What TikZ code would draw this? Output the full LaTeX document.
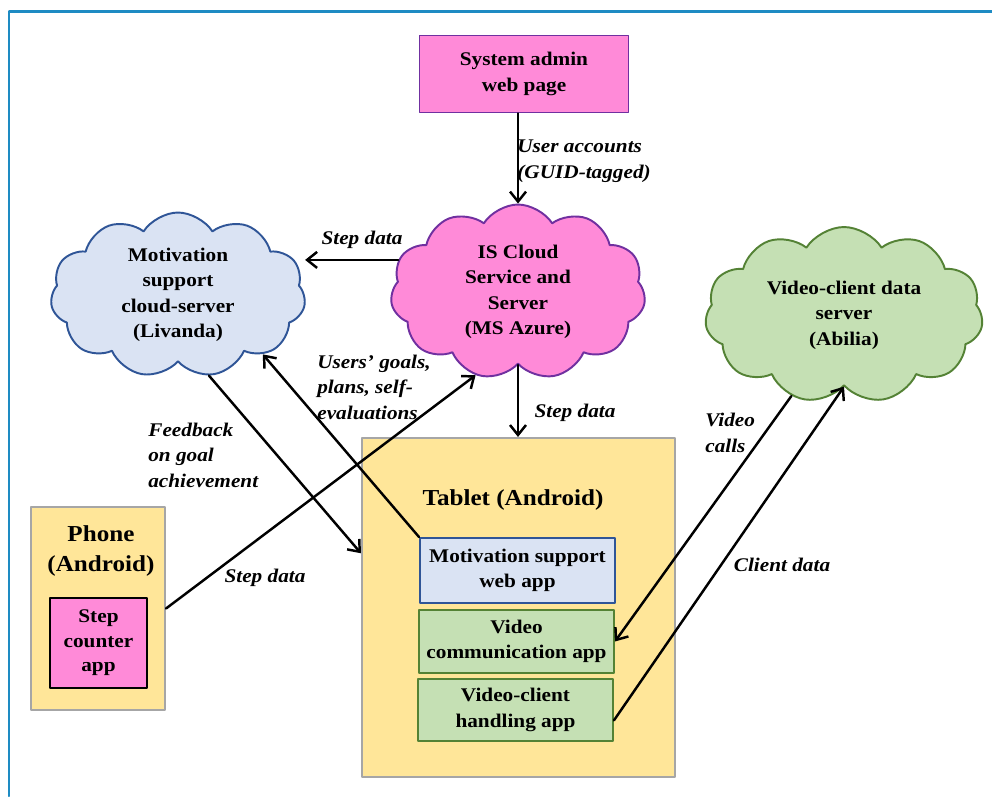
\documentclass[tikz,border=0pt]{standalone}
\usepackage{fontspec}
\setmainfont{Liberation Serif}[FakeStretch=1.1]
\usepackage{tikz}
\usetikzlibrary{arrows.meta,shapes.symbols}
\definecolor{framecol}{HTML}{1E8BC3}
\definecolor{pinkfill}{HTML}{FF8AD8}
\definecolor{purpleline}{HTML}{7030A0}
\definecolor{bluefill}{HTML}{DAE3F3}
\definecolor{blueline}{HTML}{2F5597}
\definecolor{greenfill}{HTML}{C5E0B4}
\definecolor{greenline}{HTML}{548235}
\definecolor{yellowfill}{HTML}{FFE699}
\definecolor{grayline}{HTML}{A6A6A6}

\begin{document}
\begin{tikzpicture}[x=0.02cm,y=-0.02cm,line cap=round,line join=round,
  >={Straight Barb[length=2mm,width=3.2mm]},
  box/.style={draw,line width=1.1pt,align=center,inner sep=0pt,
    font=\bfseries\fontsize{11}{14.5}\selectfont},
  cloudbox/.style={cloud,cloud puffs=11,cloud puff arc=115,aspect=1.5,draw,
    line width=1.1pt,align=center,inner sep=0pt,
    font=\bfseries\fontsize{11}{14.5}\selectfont},
  device/.style={draw=grayline,fill=yellowfill,line width=1.2pt,inner sep=0pt},
  title/.style={align=center,inner sep=0pt,font=\bfseries\fontsize{13}{17}\selectfont},
  lbl/.style={align=left,inner sep=0pt,font=\bfseries\itshape\fontsize{11}{14.5}\selectfont},
  flow/.style={->,line width=1.4pt}]
\useasboundingbox[fill=white] (0,0) rectangle (992,796);
\draw[framecol,line width=1.7pt] (9,796) -- (9,11) -- (992,11);

% servers
\node[box,fill=pinkfill,draw=purpleline,minimum width=4.18cm,minimum height=1.54cm] (admin) at (524,74) {System admin\\web page};
\node[cloudbox,fill=pinkfill,draw=purpleline,minimum width=5.1cm,minimum height=3.5cm] (iscloud) at (518,292) {IS Cloud\\Service and\\Server\\(MS Azure)};
\node[cloudbox,fill=bluefill,draw=blueline,minimum width=5.1cm,minimum height=3.3cm] (motcloud) at (178,295) {Motivation\\support\\cloud-server\\(Livanda)};
\node[cloudbox,fill=greenfill,draw=greenline,minimum width=5.56cm,minimum height=3.52cm] (vidcloud) at (844,315) {Video-client data\\server\\(Abilia)};

% devices
\node[device,minimum width=6.26cm,minimum height=6.78cm] (tablet) at (518.5,607.5) {};
\node[title] (tablettitle) at (513,500) {Tablet (Android)};
\node[box,fill=bluefill,draw=blueline,minimum width=3.9cm,minimum height=1.3cm] (webapp) at (517.5,570.5) {Motivation support\\web app};
\node[box,fill=greenfill,draw=greenline,minimum width=3.9cm,minimum height=1.26cm] (vidcomm) at (516.5,641.5) {Video\\communication app};
\node[box,fill=greenfill,draw=greenline,minimum width=3.9cm,minimum height=1.24cm] (vidhandle) at (515.5,710) {Video-client\\handling app};
\node[device,minimum width=2.68cm,minimum height=4.06cm] (phone) at (98,608.5) {};
\node[title] (phonetitle) at (101,551) {Phone\\(Android)};
\node[box,fill=pinkfill,draw=black,minimum width=1.94cm,minimum height=1.8cm,
  font=\bfseries\fontsize{11}{14}\selectfont] (stepapp) at (98.5,643) {Step\\counter\\app};

% data flows
\draw[flow] (admin.south -| iscloud.north) -- (iscloud.north);
\draw[flow] (iscloud.165) -- (iscloud.165 -| motcloud.east);
\draw[flow] (iscloud.south) -- (iscloud.south |- tablet.north);
\draw[flow] (webapp.north west) -- (motcloud.-35);
\draw[flow] (motcloud.-69) -- (tablet.161);
\draw[flow] (phone.east) -- (iscloud.-117);
\draw[flow] (vidcloud.-123) -- (vidcomm.east);
\draw[flow] (vidhandle.-6) -- (vidcloud.south);

% labels
\node[lbl,anchor=west] (lblaccounts) at (517,161) {User accounts\\(GUID-tagged)};
\node[lbl] (lblstepmot) at (362,240) {Step data};
\node[lbl] (lblstepis) at (575,413) {Step data};
\node[lbl,anchor=west] (lblgoals) at (317,387) {Users’ goals,\\plans, self-\\evaluations};
\node[lbl,anchor=west] (lblfeedback) at (148,455) {Feedback\\on goal\\achievement};
\node[lbl] (lblstepphone) at (265,578) {Step data};
\node[lbl,anchor=west] (lblvideo) at (705,433) {Video\\calls};
\node[lbl] (lblclient) at (782,565) {Client data};
\end{tikzpicture}
\end{document}
